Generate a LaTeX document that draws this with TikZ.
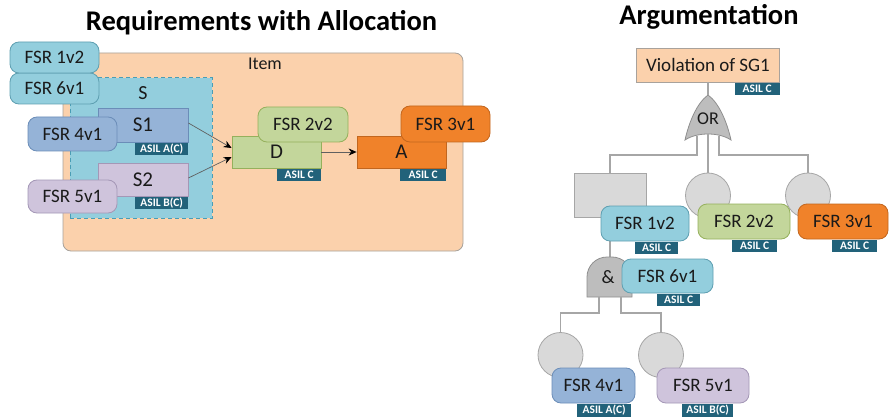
\documentclass[tikz,border=0pt]{standalone}
\usepackage{fontspec}
\setmainfont{Carlito}
\usetikzlibrary{arrows.meta,calc}

\definecolor{txt}{HTML}{1A1A1A}
\definecolor{itemfill}{HTML}{FBD1AC}
\definecolor{itemdraw}{HTML}{A8A29C}
\definecolor{cyanfill}{HTML}{93CEDD}
\definecolor{cyandraw}{HTML}{5E9FB1}
\definecolor{sdash}{HTML}{4A9DB5}
\definecolor{bluefill}{HTML}{95B3D7}
\definecolor{bluedraw}{HTML}{6B8DB8}
\definecolor{lilacfill}{HTML}{CFC4DC}
\definecolor{lilacdraw}{HTML}{A497B6}
\definecolor{greenfill}{HTML}{C3D69B}
\definecolor{greendraw}{HTML}{95B05C}
\definecolor{orangefill}{HTML}{F0822A}
\definecolor{orangedraw}{HTML}{C2661E}
\definecolor{tagfill}{HTML}{22627A}
\definecolor{gatefill}{HTML}{BDBDBD}
\definecolor{gatedraw}{HTML}{8F8F8F}
\definecolor{eventfill}{HTML}{D9D9D9}
\definecolor{eventdraw}{HTML}{A6A6A6}
\definecolor{wirec}{HTML}{A6A6A6}

\begin{document}
\begin{tikzpicture}[x=1pt,y=-1pt,
  lbl/.style={text=txt,inner sep=0pt,font=\fontsize{19}{22}\selectfont},
  box/.style={draw,inner sep=0pt,line width=0.8pt,text=txt,font=\fontsize{19}{22}\selectfont},
  fsr/.style={box,rounded corners=9pt},
  blk/.style={box,font=\fontsize{21}{24}\selectfont},
  tag/.style={fill=tagfill,text=white,inner sep=0pt,minimum height=12.5pt,
    font=\bfseries\fontsize{11.5}{13}\selectfont},
  event/.style={draw=eventdraw,fill=eventfill,line width=0.8pt,inner sep=0pt},
  gate/.style={draw=gatedraw,fill=gatefill,line width=0.8pt},
  wire/.style={draw=wirec,line width=1.2pt},
  flow/.style={draw=gray!75!black,line width=0.7pt,
    -{Stealth[length=8pt,width=7pt,color=black]}},
  title/.style={text=black,inner sep=0pt,anchor=base,
    font=\bfseries\fontsize{28.5}{32}\selectfont}
]
\useasboundingbox (0,0) rectangle (889,417);
\fill[white] (0,0) rectangle (889,417);

% ---------- headings ----------
\node[title] (headL) at (261.5,31) {Requirements with Allocation};
\node[title] (headR) at (709,25) {Argumentation};

% ---------- requirements with allocation ----------
\node[box,draw=itemdraw,fill=itemfill,rounded corners=8pt,
      minimum width=400pt,minimum height=198pt] (item) at (263,152) {};
\node[lbl,font=\fontsize{18}{21}\selectfont] (itemlbl) at (265,64) {Item};

\node[draw=sdash,fill=cyanfill,dash pattern=on 4pt off 3pt,line width=1pt,
      inner sep=0pt,minimum width=142pt,minimum height=140pt] (sbox) at (141,148) {};
\node[lbl,font=\fontsize{20}{24}\selectfont] (slbl) at (143,93) {S};

\node[blk,draw=bluedraw,fill=bluefill,minimum width=90pt,minimum height=34pt] (s1) at (143,125) {S1};
\node[tag,minimum width=53pt,anchor=north east] (s1tag) at (s1.south east) {ASIL A(C)};
\node[blk,draw=lilacdraw,fill=lilacfill,minimum width=90pt,minimum height=33pt] (s2) at (143,179.5) {S2};
\node[tag,minimum width=53pt,anchor=north east] (s2tag) at (s2.south east) {ASIL B(C)};

\node[fsr,draw=bluedraw,fill=bluefill,minimum width=89pt,minimum height=34pt] (fsrFourL) at (72.5,134) {FSR 4v1};
\node[fsr,draw=lilacdraw,fill=lilacfill,minimum width=89pt,minimum height=33pt] (fsrFiveL) at (72.5,196.5) {FSR 5v1};
\node[fsr,draw=cyandraw,fill=cyanfill,minimum width=89pt,minimum height=31pt] (fsrSixL) at (54.5,88.5) {FSR 6v1};
\node[fsr,draw=cyandraw,fill=cyanfill,minimum width=89pt,minimum height=31pt] (fsrOneL) at (54.5,57.5) {FSR 1v2};

\node[blk,draw=greendraw,fill=greenfill,minimum width=89pt,minimum height=32pt] (d) at (276.5,152) {D};
\node[tag,minimum width=44pt,anchor=north east] (dtag) at (d.south east) {ASIL C};
\node[fsr,draw=greendraw,fill=greenfill,minimum width=90pt,minimum height=35pt] (fsrTwoL) at (303,124.5) {FSR 2v2};

\node[blk,draw=orangedraw,fill=orangefill,minimum width=89pt,minimum height=32pt] (a) at (401.5,152) {A};
\node[tag,minimum width=46pt,anchor=north east] (atag) at (a.south east) {ASIL C};
\node[fsr,draw=orangedraw,fill=orangefill,minimum width=89pt,minimum height=36pt] (fsrThreeL) at (445.5,124) {FSR 3v1};

\draw[flow] ([yshift=2pt]s1.east) -- ([yshift=4pt]d.west);
\draw[flow] ([yshift=1.5pt]s2.east) -- ([yshift=-5pt]d.west);
\draw[flow] (d.east) -- (a.west);

% ---------- argumentation (fault tree) ----------
\node[box,draw=itemdraw,fill=itemfill,minimum width=143pt,minimum height=34pt] (viol) at (708,65) {Violation of SG1};
\node[tag,minimum width=45pt,anchor=north east] (violtag) at (viol.south east) {ASIL C};

% OR gate
\coordinate (orTop) at (708,95);
\coordinate (orL) at (697,136);
\coordinate (orM) at (708,134);
\coordinate (orR) at (719,136);
\filldraw[gate] (708,95) .. controls (697,103) and (689,122) .. (685,140)
  .. controls (697,132) and (719,132) .. (731,140)
  .. controls (727,122) and (719,103) .. (708,95) -- cycle;
\node[lbl,font=\fontsize{18}{21}\selectfont] (orlbl) at (708,119) {OR};
\draw[wire] (viol.south) -- (orTop);

\node[event,minimum width=72pt,minimum height=44pt] (gr) at (610,195) {};
\node[event,circle,minimum size=45pt] (c1) at (708,195.5) {};
\node[event,circle,minimum size=45pt] (c2) at (808,195.5) {};
\draw[wire] (orL) -- ++(0,19) -| (gr.north);
\draw[wire] (orM) -- (c1.north);
\draw[wire] (orR) -- ++(0,19) -| (c2.north);

% AND gate
\coordinate (andTop) at (610,257);
\coordinate (andL) at (599,297);
\coordinate (andR) at (621,297);
\draw[wire] (gr.south) -- (andTop);
\filldraw[gate] (587,297) -- (587,277) arc[start angle=180,end angle=270,radius=20]
  -- (612,257) arc[start angle=270,end angle=360,radius=20] -- (632,297) -- cycle;
\node[lbl] (andlbl) at (608,277) {\&};

\node[fsr,draw=cyandraw,fill=cyanfill,minimum width=88pt,minimum height=35pt] (fsrOneR) at (645,223.5) {FSR 1v2};
\node[tag,minimum width=43pt,anchor=north east] (oneRtag) at ([xshift=-11pt]fsrOneR.south east) {ASIL C};
\node[fsr,draw=greendraw,fill=greenfill,minimum width=92pt,minimum height=35pt] (fsrTwoR) at (744,221.5) {FSR 2v2};
\node[tag,minimum width=45pt,anchor=north east] (twoRtag) at ([xshift=-13pt]fsrTwoR.south east) {ASIL C};
\node[fsr,draw=orangedraw,fill=orangefill,minimum width=90pt,minimum height=35pt] (fsrThreeR) at (843,221.5) {FSR 3v1};
\node[tag,minimum width=45pt,anchor=north east] (threeRtag) at ([xshift=-11pt]fsrThreeR.south east) {ASIL C};

\node[fsr,draw=cyandraw,fill=cyanfill,minimum width=91pt,minimum height=34pt] (fsrSixR) at (667.5,276) {FSR 6v1};
\node[tag,minimum width=43pt,anchor=north east] (sixRtag) at ([xshift=-13pt]fsrSixR.south east) {ASIL C};

\node[event,circle,minimum size=45pt] (c3) at (560.5,355) {};
\node[event,circle,minimum size=45pt] (c4) at (661,355) {};
\draw[wire] (andL) -- ++(0,16) -| (c3.north);
\draw[wire] (andR) -- ++(0,16) -| (c4.north);

\node[fsr,draw=bluedraw,fill=bluefill,minimum width=83pt,minimum height=35pt] (fsrFourR) at (593.5,385.5) {FSR 4v1};
\node[tag,minimum width=54pt,minimum height=13.5pt,anchor=north east] (fourRtag) at ([xshift=-4pt]fsrFourR.south east) {ASIL A(C)};
\node[fsr,draw=lilacdraw,fill=lilacfill,minimum width=92pt,minimum height=35pt] (fsrFiveR) at (703,385.5) {FSR 5v1};
\node[tag,minimum width=51pt,minimum height=13.5pt,anchor=north east] (fiveRtag) at ([xshift=-16pt]fsrFiveR.south east) {ASIL B(C)};

\end{tikzpicture}
\end{document}
